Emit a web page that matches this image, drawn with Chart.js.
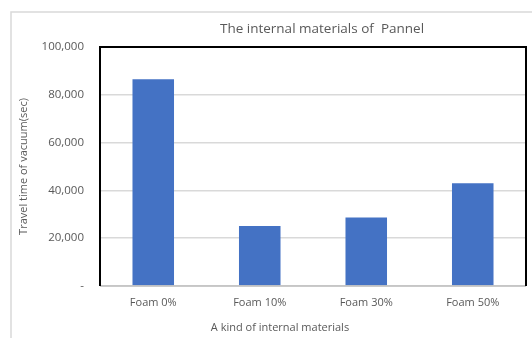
<!DOCTYPE html>
<html>
<head>
<meta charset="utf-8">
<script src="https://cdn.jsdelivr.net/npm/chart.js@4"></script>
<style>
html,body{margin:0;padding:0;background:#fff;}
#wrap{width:532px;height:338px;position:relative;}
</style>
</head>
<body>
<div id="wrap"><canvas id="c" width="532" height="338"></canvas></div>
<script>
const chartTitle = 'The internal materials of  Pannel';
const categories = ['Foam 0%', 'Foam 10%', 'Foam 30%', 'Foam 50%'];
const travelTime = [86500, 25100, 28700, 43000];
const yTickLabels = ['-', '20,000', '40,000', '60,000', '80,000', '100,000'];
const xAxisTitle = 'A kind of internal materials';
const yAxisTitle = 'Travel time of vacuum(sec)';

const FONT = "'Open Sans', 'Liberation Sans', sans-serif";
const GREY_TEXT = '#595959';

const framePlugin = {
  id: 'frame',
  beforeDraw(chart) {
    const ctx = chart.ctx;
    ctx.save();
    ctx.fillStyle = '#ffffff';
    ctx.fillRect(0, 0, chart.width, chart.height);
    ctx.strokeStyle = '#d9d9d9';
    ctx.lineWidth = 1.5;
    ctx.beginPath();
    ctx.moveTo(11, chart.height);
    ctx.lineTo(11, 12);
    ctx.lineTo(chart.width, 12);
    ctx.stroke();
    ctx.restore();
  },
  afterDraw(chart) {
    const ctx = chart.ctx;
    const a = chart.chartArea;
    ctx.save();
    ctx.strokeStyle = '#bfbfbf';
    ctx.lineWidth = 1.5;
    ctx.beginPath();
    ctx.moveTo(a.left, a.bottom);
    ctx.lineTo(a.right, a.bottom);
    ctx.stroke();
    ctx.strokeStyle = '#000000';
    ctx.lineWidth = 2;
    ctx.beginPath();
    ctx.moveTo(a.left, a.bottom);
    ctx.lineTo(a.left, a.top);
    ctx.lineTo(a.right, a.top);
    ctx.lineTo(a.right, a.bottom);
    ctx.stroke();
    // titles
    ctx.fillStyle = GREY_TEXT;
    ctx.textAlign = 'center';
    ctx.textBaseline = 'middle';
    ctx.font = "13.5px " + FONT;
    ctx.fillText(chartTitle, 322, 29);
    ctx.font = "11px " + FONT;
    ctx.fillText(xAxisTitle, 280, 328);
    ctx.restore();
  }
};

new Chart(document.getElementById('c'), {
  type: 'bar',
  data: {
    labels: categories,
    datasets: [{
      label: 'Travel time',
      data: travelTime,
      backgroundColor: '#4472c4',
      borderWidth: 0,
      barPercentage: 0.39,
      categoryPercentage: 1.0
    }]
  },
  options: {
    responsive: false,
    animation: false,
    devicePixelRatio: 1,
    layout: { padding: { top: 47, left: 0, right: 6, bottom: 0 } },
    plugins: {
      legend: { display: false },
      title: { display: false },
      tooltip: { enabled: false }
    },
    scales: {
      x: {
        grid: { display: false, drawTicks: false },
        border: { display: false },
        ticks: { color: GREY_TEXT, font: { family: FONT, size: 11 }, padding: 10, maxRotation: 0 },
        afterFit(s) { s.height = 52; }
      },
      y: {
        min: 0, max: 100000,
        grid: { color: '#d9d9d9', lineWidth: 1.5, drawTicks: false },
        border: { display: false },
        ticks: {
          stepSize: 20000,
          color: GREY_TEXT,
          font: { family: FONT, size: 11.5 },
          padding: 16,
          callback: (v, i) => yTickLabels[i]
        },
        title: {
          display: true, text: yAxisTitle, color: GREY_TEXT,
          font: { family: FONT, size: 11 }, padding: { top: 17, bottom: 0 }
        },
        afterFit(s) { s.width = 100; }
      }
    }
  },
  plugins: [framePlugin]
});
</script>
</body>
</html>
